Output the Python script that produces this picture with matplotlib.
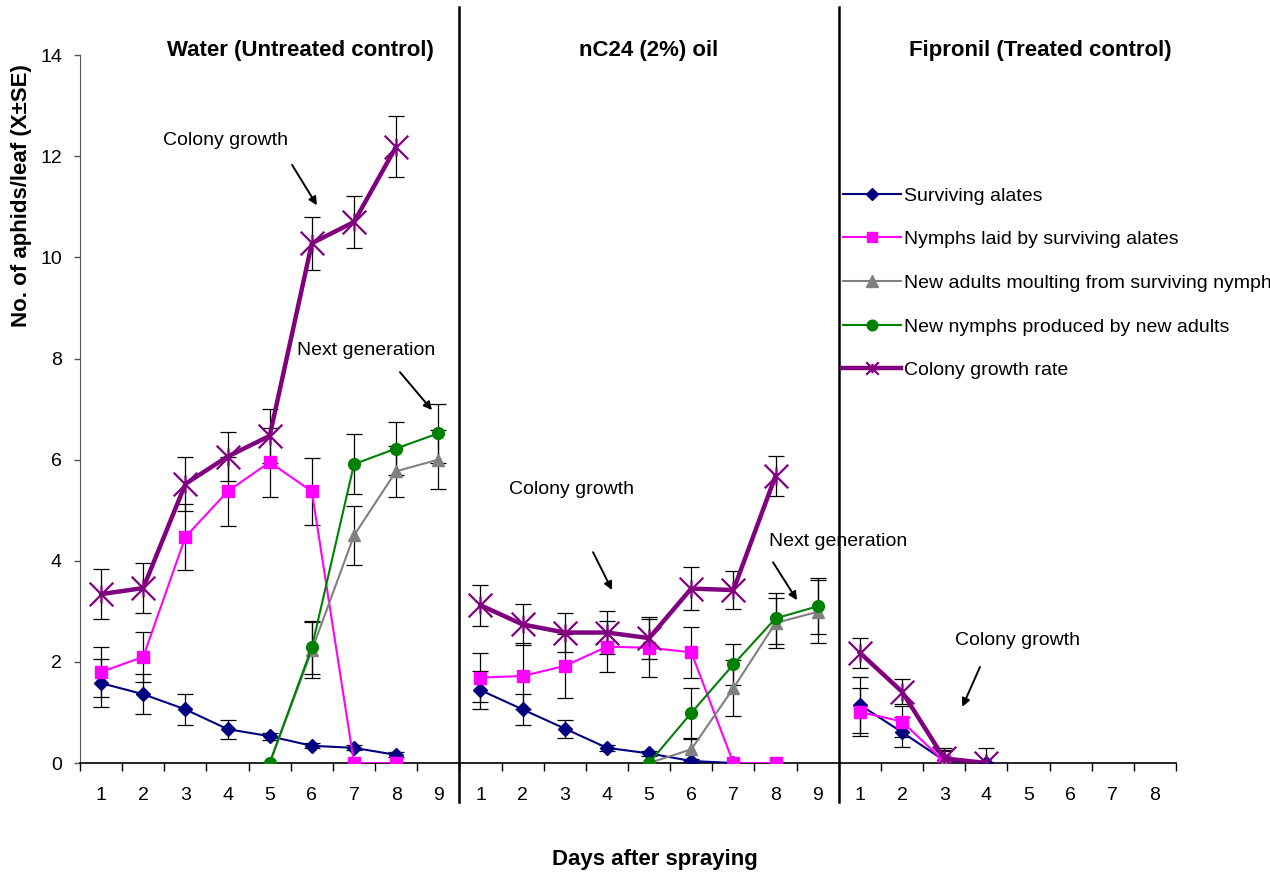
import numpy as np
import matplotlib
matplotlib.use('Agg')
import matplotlib.pyplot as plt
from matplotlib.path import Path
from matplotlib.lines import Line2D
from matplotlib.transforms import blended_transform_factory

plt.rcParams['font.family'] = ['Liberation Sans', 'DejaVu Sans']

nan = np.nan

# treatments and days
groups = ['Water (Untreated control)', 'nC24 (2%) oil', 'Fipronil (Treated control)']
days = [list(range(1, 10)), list(range(1, 10)), list(range(1, 9))]

# Water (untreated control)
water_alates = [1.58, 1.36, 1.06, 0.67, 0.53, 0.34, 0.30, 0.16, nan]
water_alates_se = [0.48, 0.40, 0.30, 0.19, 0.07, 0.05, 0.05, 0.05, nan]
water_nymphs = [1.80, 2.10, 4.47, 5.37, 5.95, 5.37, 0.0, 0.0, nan]
water_nymphs_se = [0.50, 0.50, 0.65, 0.68, 0.68, 0.66, nan, nan, nan]
water_adults = [nan, nan, nan, nan, 0.0, 2.23, 4.50, 5.77, 6.00]
water_adults_se = [nan, nan, nan, nan, nan, 0.55, 0.59, 0.50, 0.59]
water_newnymphs = [nan, nan, nan, nan, 0.0, 2.29, 5.91, 6.22, 6.52]
water_newnymphs_se = [nan, nan, nan, nan, nan, 0.52, 0.59, 0.52, 0.59]
water_colony = [3.34, 3.46, 5.52, 6.06, 6.47, 10.28, 10.70, 12.19, nan]
water_colony_se = [0.50, 0.50, 0.53, 0.49, 0.53, 0.52, 0.51, 0.61, nan]

# nC24 (2%) oil
oil_alates = [1.44, 1.06, 0.68, 0.30, 0.19, 0.04, 0.0, nan, nan]
oil_alates_se = [0.38, 0.30, 0.18, 0.06, 0.05, 0.02, nan, nan, nan]
oil_nymphs = [1.69, 1.72, 1.92, 2.30, 2.28, 2.19, 0.0, 0.0, nan]
oil_nymphs_se = [0.48, 0.65, 0.63, 0.50, 0.57, 0.50, nan, nan, nan]
oil_adults = [nan, nan, nan, nan, 0.0, 0.27, 1.48, 2.77, 2.99]
oil_adults_se = [nan, nan, nan, nan, nan, 0.20, 0.56, 0.50, 0.62]
oil_newnymphs = [nan, nan, nan, nan, 0.0, 0.99, 1.95, 2.86, 3.10]
oil_newnymphs_se = [nan, nan, nan, nan, nan, 0.49, 0.40, 0.50, 0.55]
oil_colony = [3.12, 2.74, 2.58, 2.58, 2.47, 3.45, 3.42, 5.68, nan]
oil_colony_se = [0.41, 0.40, 0.38, 0.42, 0.42, 0.42, 0.38, 0.40, nan]

# Fipronil (treated control)
fip_alates = [1.15, 0.61, 0.05, 0.0, nan, nan, nan, nan]
fip_alates_se = [0.55, 0.30, 0.20, nan, nan, nan, nan, nan]
fip_nymphs = [1.01, 0.82, 0.03, nan, nan, nan, nan, nan]
fip_nymphs_se = [0.48, 0.30, 0.20, nan, nan, nan, nan, nan]
fip_adults = [nan, nan, 0.0, nan, nan, nan, nan, nan]
fip_adults_se = [nan] * 8
fip_newnymphs = [nan] * 8
fip_newnymphs_se = [nan] * 8
fip_colony = [2.18, 1.41, 0.09, 0.0, nan, nan, nan, nan]
fip_colony_se = [0.30, 0.25, 0.20, 0.30, nan, nan, nan, nan]

############################################################################################################

star = Path([(-1, -1), (1, 1), (-1, 1), (1, -1), (0, -0.75), (0, 0.75)],
            [Path.MOVETO, Path.LINETO, Path.MOVETO, Path.LINETO, Path.MOVETO, Path.LINETO])

series = [
    ('Surviving alates', (water_alates, oil_alates, fip_alates),
     (water_alates_se, oil_alates_se, fip_alates_se),
     dict(color='#000080', marker='D', ms=7, lw=1.5)),
    ('Nymphs laid by surviving alates', (water_nymphs, oil_nymphs, fip_nymphs),
     (water_nymphs_se, oil_nymphs_se, fip_nymphs_se),
     dict(color='#FF00FF', marker='s', ms=8, lw=1.5)),
    ('New adults moulting from surviving nymphs', (water_adults, oil_adults, fip_adults),
     (water_adults_se, oil_adults_se, fip_adults_se),
     dict(color='#808080', marker='^', ms=9, lw=1.5)),
    ('New nymphs produced by new adults', (water_newnymphs, oil_newnymphs, fip_newnymphs),
     (water_newnymphs_se, oil_newnymphs_se, fip_newnymphs_se),
     dict(color='#008000', marker='o', ms=8.5, lw=1.5)),
    ('Colony growth rate', (water_colony, oil_colony, fip_colony),
     (water_colony_se, oil_colony_se, fip_colony_se),
     dict(color='#800080', marker=star, ms=17, lw=3.2, mew=1.6, mfc='none')),
]

# x positions: each group follows the previous one, nan between groups breaks the line
xpos = []
offset = 0
for d in days:
    xpos.append([offset + i for i in d])
    offset += len(d)
ncat = offset


def joined(parts):
    x, y = [], []
    for xs, ys in zip(xpos, parts):
        x += xs + [nan]
        y += list(ys) + [nan]
    return np.array(x, float), np.array(y, float)


fig = plt.figure(figsize=(12.7, 8.75), dpi=100)
ax = fig.add_axes([0.063, 0.128, 0.863, 0.809])

handles = []
for label, vals, errs, style in series:
    x, y = joined(vals)
    _, e = joined(errs)
    ax.errorbar(x, y, yerr=e, fmt='none', ecolor='black', elinewidth=0.9, capsize=5.5, capthick=0.9, zorder=2)
    kw = dict(style)
    mew = kw.pop('mew', 1)
    mfc = kw.pop('mfc', kw['color'])
    ax.plot(x, y, color=kw['color'], lw=kw['lw'], marker=kw['marker'], ms=kw['ms'],
            mec=kw['color'], mfc=mfc, mew=mew, zorder=3)
    hms = 9 if kw['marker'] is star else kw['ms'] * 0.9
    handles.append(Line2D([], [], color=kw['color'], lw=kw['lw'], marker=kw['marker'], ms=hms,
                          mec=kw['color'], mfc=mfc, mew=mew, label=label))

ax.set_xlim(0.5, ncat + 0.5)
ax.set_ylim(0, 14)
ax.set_yticks(np.arange(0, 15, 2))
ax.set_xticks(np.arange(1, ncat + 1))
ax.set_xticklabels([str(d) for grp in days for d in grp])
ax.set_xticks(np.arange(0.5, ncat + 1), minor=True)
ax.tick_params(axis='x', which='major', length=0, pad=17, labelsize=14)
ax.tick_params(axis='x', which='minor', length=6, width=1, direction='out')
ax.tick_params(axis='y', length=4, width=1, pad=9, labelsize=14, color='#555555')
ax.spines['top'].set_visible(False)
ax.spines['right'].set_visible(False)
ax.spines['left'].set_color('#555555')
ax.spines['bottom'].set_linewidth(1.2)

# separators between treatments
trans = blended_transform_factory(ax.transData, ax.transAxes)
bounds = np.cumsum([len(d) for d in days])[:-1] + 0.5
for b in bounds:
    ax.plot([b, b], [-0.055, 1.068], color='black', lw=1.8, transform=trans, clip_on=False)

# treatment titles
title_x = [5.72, 14.0, 23.28]
for tx, name in zip(title_x, groups):
    ax.text(tx, 1.007, name, transform=trans, ha='center', va='center', fontsize=16, fontweight='bold')

# annotations
notes = [
    ('Colony growth', (3.94, 12.32), (5.53, 11.83), (6.12, 11.03)),
    ('Next generation', (7.29, 8.15), (8.09, 7.73), (8.85, 6.98)),
    ('Colony growth', (12.17, 5.40), (12.67, 4.17), (13.12, 3.42)),
    ('Next generation', (18.48, 4.39), (16.94, 3.97), (17.51, 3.22)),
    ('Colony growth', (22.73, 2.43), (21.85, 1.90), (21.43, 1.11)),
]
for txt, pos, tail, head in notes:
    ax.text(pos[0], pos[1], txt, ha='center', va='center', fontsize=14, zorder=5)
    ax.annotate('', xy=head, xytext=tail,
                arrowprops=dict(arrowstyle='-|>', color='black', lw=1.4, mutation_scale=12, shrinkA=0, shrinkB=0))

fig.text(22 / 1270, 1 - 196 / 875, 'No. of aphids/leaf (X\u00b1SE)', rotation=90, ha='center', va='center',
         fontsize=16, fontweight='bold')
fig.text(655 / 1270, 1 - 860 / 875, 'Days after spraying', ha='center', va='center', fontsize=16, fontweight='bold')

ax.legend(handles=handles, loc='upper left', bbox_to_anchor=(843 / 1270, 1 - 187 / 875),
          bbox_transform=fig.transFigure, frameon=False, fontsize=14, borderaxespad=0, borderpad=0,
          handlelength=3.0, handletextpad=0.15, labelspacing=1.34)

fig.savefig('out.png', dpi=100)
